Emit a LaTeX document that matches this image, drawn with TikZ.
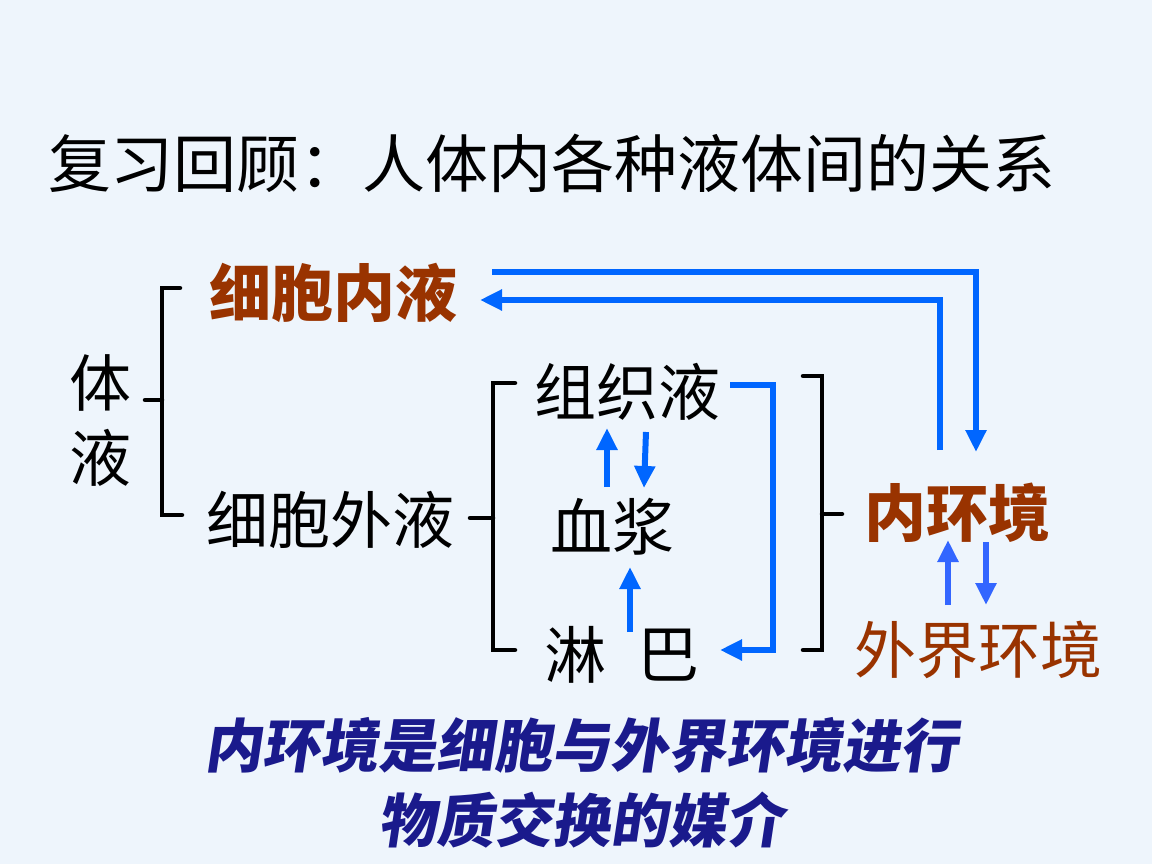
\documentclass[tikz,border=0pt]{standalone}
\usepackage{fontspec}
\newfontfamily\cjk{Noto Sans CJK SC}
\usetikzlibrary{arrows.meta}
\definecolor{bg}{HTML}{EEF5FC}
\definecolor{arr}{HTML}{0066FF}
\definecolor{arr2}{HTML}{3366FF}
\definecolor{brn}{HTML}{993300}
\definecolor{navy}{HTML}{1A1A8C}
\begin{document}
\begin{tikzpicture}[x=1pt,y=-1pt,
  txt/.style={font=\cjk\fontsize{62}{68}\selectfont, inner sep=0pt},
  btxt/.style={txt, brn, font=\cjk\bfseries\fontsize{62}{68}\selectfont},
  br/.style={line width=4.5pt, line cap=round, line join=miter},
  fl/.style={line width=6pt, arr, -{Triangle[length=22pt,width=20pt]}},
  fl2/.style={line width=6pt, arr2, -{Triangle[length=22pt,width=20pt]}},
  bot/.style={txt, navy, font=\cjk\bfseries\fontsize{58}{64}\selectfont, xslant=0.15}]
\fill[bg] (0,0) rectangle (1152,864);
\useasboundingbox (0,0) rectangle (1152,864);
\node[txt, font=\cjk\fontsize{63}{70}\selectfont] (title) at (552,163) {复习回顾：人体内各种液体间的关系};
\node[btxt] (icf) at (333,293) {细胞内液};
\node[txt] (t1) at (100,383) {体};
\node[txt] (t2) at (100,458) {液};
\node[txt] (ecf) at (330,520) {细胞外液};
\node[txt] (tis) at (627,392) {组织液};
\node[txt] (pl) at (612,527) {血浆};
\node[txt] (ly1) at (575,655) {淋};
\node[txt] (ly2) at (668,655) {巴};
\node[btxt] (ie) at (957,513) {内环境};
\node[txt, brn] (oe) at (978,650) {外界环境};
\node[bot] (b1) at (585,745) {内环境是细胞与外界环境进行};
\node[bot] (b2) at (585,820) {物质交换的媒介};
% brackets
\coordinate (lbt) at (180,288); \coordinate (lbb) at (182,515);
\draw[br] (lbt) -| (162,515) -- (lbb);
\draw[br] (145,400) -- (162,400);
\draw[br] (470,518) -- (493,518);
\draw[br] (515,383) -| (493,650) -- (515,650);
\draw[br] (803,376) -| (822,650) -- (803,650);
\draw[br] (822,514) -- (842,514);
% arrows
\coordinate (a1) at (492,272); \coordinate (a1e) at (976,452);
\draw[fl] (a1) -| (a1e);
\coordinate (a2) at (940,450); \coordinate (a2e) at (480,300);
\draw[fl] (a2) |- (a2e);
\coordinate (a3) at (730,385); \coordinate (a3e) at (720,650);
\draw[fl] (a3) -| (773,650) -- (a3e);
\coordinate (s1) at (607,487); \coordinate (s1e) at (607,428);
\draw[fl] (s1) -- (s1e);
\coordinate (s2) at (646,432); \coordinate (s2e) at (644,488);
\draw[fl] (s2) -- (s2e);
\coordinate (s3) at (630,632); \coordinate (s3e) at (630,567);
\draw[fl] (s3) -- (s3e);
\coordinate (s4) at (948,605); \coordinate (s4e) at (948,540);
\draw[fl2] (s4) -- (s4e);
\coordinate (s5) at (986,542); \coordinate (s5e) at (986,605);
\draw[fl2] (s5) -- (s5e);
\end{tikzpicture}
\end{document}
